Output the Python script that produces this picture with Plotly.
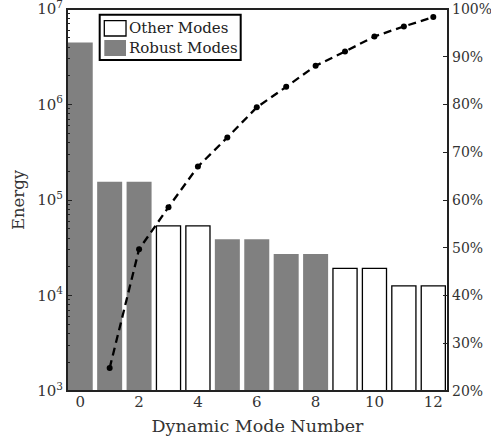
import plotly.graph_objects as go

# Dynamic mode energies and cumulative energy fraction
modes = list(range(13))
energy = [4.47e6, 1.556e5, 1.556e5, 5.37e4, 5.37e4, 3.87e4, 3.87e4,
          2.72e4, 2.72e4, 1.92e4, 1.92e4, 1.26e4, 1.26e4]
robust = [True, True, True, False, False, True, True,
          True, True, False, False, False, False]
cum_modes = list(range(1, 13))
cum_pct = [24.8, 49.7, 58.5, 67.0, 73.1, 79.4, 83.7, 88.1, 91.1, 94.25, 96.35, 98.3]

y_tickvals = [1e3, 1e4, 1e5, 1e6, 1e7]
y_ticktext = ["10<sup>3</sup>", "10<sup>4</sup>", "10<sup>5</sup>",
              "10<sup>6</sup>", "10<sup>7</sup>"]
x_tickvals = [0, 2, 4, 6, 8, 10, 12]
pct_tickvals = [20, 30, 40, 50, 60, 70, 80, 90, 100]
pct_ticktext = [f"{v}%" for v in pct_tickvals]
legend_names = ["Other Modes", "Robust Modes"]

FONT = "DejaVu Serif"
GRAY = "#808080"
AXIS = "#222222"
TEXT = "#333333"

other_x = [m for m, r in zip(modes, robust) if not r]
other_y = [e for e, r in zip(energy, robust) if not r]
rob_x = [m for m, r in zip(modes, robust) if r]
rob_y = [e for e, r in zip(energy, robust) if r]

fig = go.Figure()
fig.add_trace(go.Bar(
    x=other_x, y=other_y, name=legend_names[0], width=0.82,
    marker=dict(color="white", line=dict(color="black", width=1.3)),
    showlegend=False,
))
fig.add_trace(go.Bar(
    x=rob_x, y=rob_y, name=legend_names[1], width=0.85,
    marker=dict(color=GRAY, line=dict(color=GRAY, width=0)),
    showlegend=False,
))
fig.add_trace(go.Scatter(
    x=cum_modes, y=cum_pct, yaxis="y2", mode="lines+markers",
    line=dict(color="black", width=2.3, dash="8px,5px"),
    marker=dict(color="black", size=6),
    showlegend=False,
))

# plot frame
fig.add_shape(type="rect", xref="paper", yref="paper", x0=0, y0=0, x1=1, y1=1,
              line=dict(color=AXIS, width=2), fillcolor="rgba(0,0,0,0)", layer="above")

# boxed legend drawn in paper coordinates
fig.add_shape(type="rect", xref="paper", yref="paper",
              x0=0.0858, x1=0.4559, y0=0.8665, y1=0.9851,
              line=dict(color="black", width=2), fillcolor="white", layer="above")
fig.add_shape(type="rect", xref="paper", yref="paper",
              x0=0.0979, x1=0.1549, y0=0.9293, y1=0.9694,
              line=dict(color="black", width=1.3), fillcolor="white", layer="above")
fig.add_shape(type="rect", xref="paper", yref="paper",
              x0=0.0979, x1=0.1549, y0=0.8770, y1=0.9188,
              line=dict(color=GRAY, width=0), fillcolor=GRAY, layer="above")
for name, yc in zip(legend_names, [0.9495, 0.8971]):
    fig.add_annotation(xref="paper", yref="paper", x=0.1575, y=yc,
                       xanchor="left", yanchor="middle", showarrow=False,
                       text=name, font=dict(family=FONT, size=15, color="#222222"))

fig.update_layout(
    width=491, height=446,
    margin=dict(l=67, r=43, t=9, b=55, autoexpand=False),
    paper_bgcolor="white", plot_bgcolor="white",
    barmode="overlay",
    font=dict(family=FONT, size=15, color=TEXT),
    xaxis=dict(
        range=[-0.45, 12.5], tickvals=x_tickvals, automargin=False,
        showline=False, ticks="", showgrid=False, zeroline=False,
        title=dict(text="Dynamic Mode Number", standoff=9,
                   font=dict(family=FONT, size=17.5)),
        tickfont=dict(family=FONT, size=15),
    ),
    yaxis=dict(
        type="log", range=[3, 7], tickvals=y_tickvals, ticktext=y_ticktext,
        automargin=False, showline=False, ticklabeloverflow="allow",
        ticks="inside", ticklen=5, tickcolor=AXIS, tickwidth=1,
        ticklabelstandoff=3,
        minor=dict(ticks="inside", ticklen=3, tickcolor=AXIS, tickwidth=1,
                   dtick="D1", showgrid=False),
        showgrid=False, zeroline=False,
        title=dict(text="Energy", standoff=8, font=dict(family=FONT, size=16.5)),
        tickfont=dict(family=FONT, size=15),
    ),
    yaxis2=dict(
        overlaying="y", side="right", range=[20, 100],
        tickvals=pct_tickvals, ticktext=pct_ticktext, automargin=False,
        showline=False, ticklabeloverflow="allow",
        ticks="inside", ticklen=5, tickcolor=AXIS, tickwidth=1,
        ticklabelstandoff=3,
        showgrid=False, zeroline=False,
        tickfont=dict(family=FONT, size=14),
    ),
)

fig.write_html("out.html")
